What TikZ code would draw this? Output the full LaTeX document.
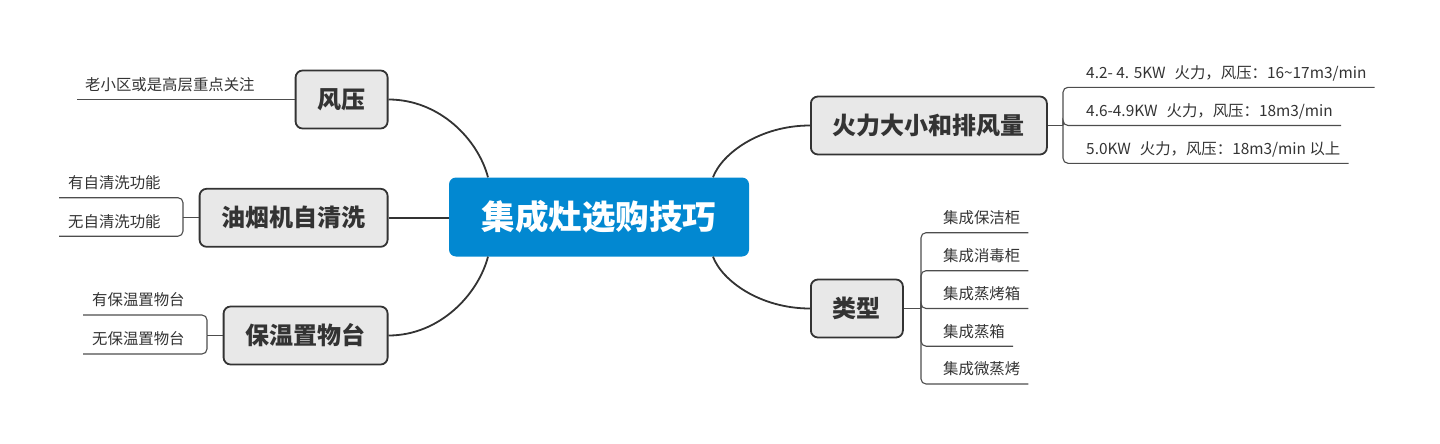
\documentclass[tikz,border=0pt]{standalone}
\usepackage{fontspec}
\setmainfont{Noto Sans CJK SC}
\definecolor{rootblue}{HTML}{0288D1}
\definecolor{topicfill}{HTML}{E8E8E8}
\definecolor{darkline}{HTML}{333333}
\definecolor{forkline}{HTML}{4D4D4D}
\newcommand{\kwgap}{\hspace{9pt}}
\begin{document}
\begin{tikzpicture}
  [x=1pt,y=-1pt,
   root/.style={rectangle,rounded corners=7pt,fill=rootblue,text=white,font=\fontsize{33.5}{40}\selectfont\bfseries,minimum width=300pt,minimum height=79pt},
   topic/.style={rectangle,rounded corners=7pt,draw=darkline,line width=1.8pt,fill=topicfill,text=darkline,font=\fontsize{24}{29}\selectfont\bfseries,inner xsep=22pt,minimum height=58pt},
   leaf/.style={text=darkline,font=\fontsize{15.4}{18}\selectfont,inner xsep=8pt,inner ysep=0pt,text height=12pt,text depth=9pt},
   link/.style={draw=darkline,line width=1.8pt},
   fork/.style={draw=forkline,line width=1.1pt,rounded corners=5pt}]
  \useasboundingbox (0,0) rectangle (1440,444);
  % main topics
  \node (root)[root] at (599,217) {集成灶选购技巧};
  \node (wind)[topic,anchor=east] at (388.5,99.5) {风压};
  \node (clean)[topic,anchor=east] at (388.5,217.8) {油烟机自清洗};
  \node (warm)[topic,anchor=east] at (388.5,335.5) {保温置物台};
  \node (fire)[topic,anchor=west] at (810,125.5) {火力大小和排风量};
  \node (kind)[topic,anchor=west] at (810,308.5) {类型};
  % junctions of the forks
  \coordinate (cj) at (183,217.8);
  \coordinate (wj) at (207,335.5);
  \coordinate (fj) at (1063,125.5);
  \coordinate (kj) at (921,308.5);
  % left leaves
  \node (p1)[leaf,anchor=south west] at (77,99.5) {老小区或是高层重点关注};
  \node (c1)[leaf,anchor=south west,inner xsep=9pt] at (59,197.7) {有自清洗功能};
  \node (c2)[leaf,anchor=south west,inner xsep=9pt] at (59,236.2) {无自清洗功能};
  \node (w1)[leaf,anchor=south west,inner xsep=9pt] at (83,315) {有保温置物台};
  \node (w2)[leaf,anchor=south west,inner xsep=9pt] at (83,354) {无保温置物台};
  % right leaves
  \node (f1)[leaf,anchor=south west] at (1078,87.3) {4.2- 4. 5KW\kwgap 火力，风压：16\textasciitilde17m3/min};
  \node (f2)[leaf,anchor=south west] at (1078,125.5) {4.6-4.9KW\kwgap 火力，风压：18m3/min};
  \node (f3)[leaf,anchor=south west] at (1078,163.3) {5.0KW\kwgap 火力，风压：18m3/min 以上};
  \node (k1)[leaf,anchor=south west] at (935,232.7) {集成保洁柜};
  \node (k2)[leaf,anchor=south west] at (935,270.7) {集成消毒柜};
  \node (k3)[leaf,anchor=south west] at (935,308.5) {集成蒸烤箱};
  \node (k4)[leaf,anchor=south west] at (935,346.2) {集成蒸箱};
  \node (k5)[leaf,anchor=south west] at (935,384) {集成微蒸烤};
  % branches from the root
  \draw[link] (wind.east) .. controls +(51,0) and +(-10,-38) .. ([xshift=-111pt]root.north);
  \draw[link] (clean.east) -- (clean.east -| root.west);
  \draw[link] (warm.east) .. controls +(51,0) and +(-10,38) .. ([xshift=-111pt]root.south);
  \draw[link] ([xshift=114pt]root.north) .. controls +(9,-24) and +(-50,0) .. (fire.west);
  \draw[link] ([xshift=114pt]root.south) .. controls +(9,24) and +(-50,0) .. (kind.west);
  % forks to the leaves
  \draw[fork] (wind.west) -- (p1.south west);
  \foreach \from/\to in {clean/cj,warm/wj}
    \draw[fork] (\from.west) -- (\to);
  \foreach \from/\to in {fire/fj,kind/kj}
    \draw[fork] (\from.east) -- (\to);
  \foreach \to in {c1,c2}
    \draw[fork] (cj) |- (\to.south west);
  \foreach \to in {w1,w2}
    \draw[fork] (wj) |- (\to.south west);
  \foreach \to in {f1,f2,f3}
    \draw[fork] (fj) |- (\to.south east);
  \foreach \to in {k1,k2,k3,k4,k5}
    \draw[fork] (kj) |- (\to.south east);
\end{tikzpicture}
\end{document}
